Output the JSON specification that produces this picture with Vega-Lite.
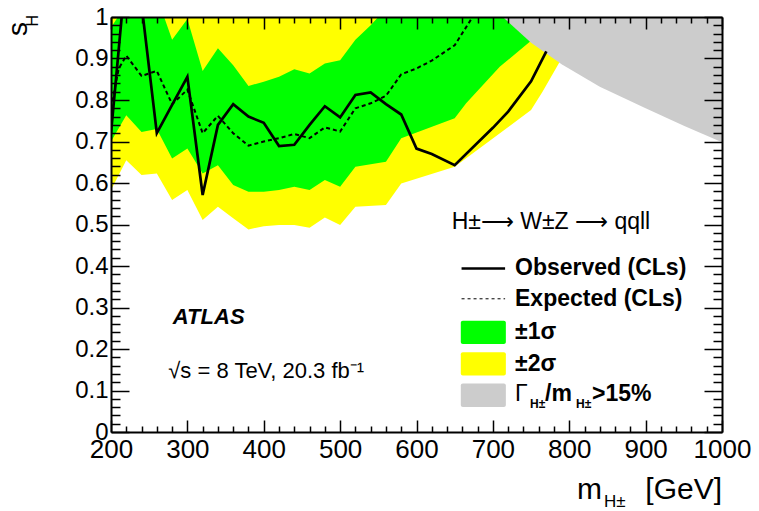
{
  "$schema": "https://vega.github.io/schema/vega-lite/v6.json",
  "width": 611,
  "height": 415,
  "autosize": {"type": "none"},
  "padding": {"left": 111, "top": 17, "right": 37, "bottom": 79},
  "background": "white",
  "config": {"view": {"stroke": null}, "font": "Liberation Sans"},
  "resolve": {"axis": {"x": "independent", "y": "independent"}},
  "datasets": {
    "yellow": [
      {"m": 200, "lo": 0.583, "hi": 1.1}, {"m": 220, "lo": 0.655, "hi": 1.1}, {"m": 240, "lo": 0.619, "hi": 1.1},
      {"m": 260, "lo": 0.623, "hi": 1.1}, {"m": 280, "lo": 0.559, "hi": 1.1}, {"m": 300, "lo": 0.583, "hi": 1.1},
      {"m": 320, "lo": 0.511, "hi": 1.1}, {"m": 340, "lo": 0.543, "hi": 1.1}, {"m": 360, "lo": 0.515, "hi": 1.1},
      {"m": 380, "lo": 0.488, "hi": 1.1}, {"m": 400, "lo": 0.496, "hi": 1.1}, {"m": 420, "lo": 0.499, "hi": 1.1},
      {"m": 440, "lo": 0.499, "hi": 1.1}, {"m": 460, "lo": 0.492, "hi": 1.1}, {"m": 480, "lo": 0.517, "hi": 1.1},
      {"m": 500, "lo": 0.499, "hi": 1.1}, {"m": 520, "lo": 0.543, "hi": 1.1}, {"m": 560, "lo": 0.547, "hi": 1.1},
      {"m": 580, "lo": 0.599, "hi": 1.1}, {"m": 650, "lo": 0.639, "hi": 1.1}, {"m": 750, "lo": 0.776, "hi": 1.1},
      {"m": 765, "lo": 0.82, "hi": 1.1}, {"m": 790, "lo": 0.9, "hi": 1.1}
    ],
    "green": [
      {"m": 200, "lo": 0.70, "hi": 0.975}, {"m": 220, "lo": 0.763, "hi": 1.03}, {"m": 240, "lo": 0.723, "hi": 1.1},
      {"m": 260, "lo": 0.73, "hi": 1.05}, {"m": 280, "lo": 0.659, "hi": 0.945}, {"m": 300, "lo": 0.683, "hi": 0.995},
      {"m": 320, "lo": 0.623, "hi": 0.87}, {"m": 340, "lo": 0.643, "hi": 0.925}, {"m": 360, "lo": 0.595, "hi": 0.884},
      {"m": 380, "lo": 0.579, "hi": 0.834}, {"m": 400, "lo": 0.579, "hi": 0.844}, {"m": 420, "lo": 0.583, "hi": 0.856},
      {"m": 440, "lo": 0.591, "hi": 0.874}, {"m": 460, "lo": 0.583, "hi": 0.864}, {"m": 480, "lo": 0.607, "hi": 0.888},
      {"m": 500, "lo": 0.591, "hi": 0.896}, {"m": 520, "lo": 0.639, "hi": 0.945}, {"m": 540, "lo": 0.645, "hi": 0.98},
      {"m": 560, "lo": 0.651, "hi": 1.02}, {"m": 580, "lo": 0.708, "hi": 1.1}, {"m": 650, "lo": 0.756, "hi": 1.1},
      {"m": 665, "lo": 0.792, "hi": 1.1}, {"m": 709, "lo": 0.88, "hi": 1.1}, {"m": 748, "lo": 0.94, "hi": 1.1},
      {"m": 770, "lo": 0.98, "hi": 1.1}
    ],
    "gray": [
      {"m": 713, "lo": 1.0, "hi": 1.05}, {"m": 750, "lo": 0.938, "hi": 1.05}, {"m": 790, "lo": 0.886, "hi": 1.05},
      {"m": 840, "lo": 0.832, "hi": 1.05}, {"m": 900, "lo": 0.78, "hi": 1.05}, {"m": 950, "lo": 0.738, "hi": 1.05},
      {"m": 1000, "lo": 0.698, "hi": 1.05}
    ],
    "observed": [
      {"m": 200, "s": 0.72}, {"m": 220, "s": 1.12}, {"m": 240, "s": 1.03}, {"m": 260, "s": 0.72},
      {"m": 280, "s": 0.788}, {"m": 300, "s": 0.856}, {"m": 320, "s": 0.571}, {"m": 340, "s": 0.74},
      {"m": 360, "s": 0.79}, {"m": 380, "s": 0.76}, {"m": 400, "s": 0.745}, {"m": 420, "s": 0.689},
      {"m": 440, "s": 0.692}, {"m": 460, "s": 0.74}, {"m": 480, "s": 0.785}, {"m": 500, "s": 0.758},
      {"m": 520, "s": 0.812}, {"m": 540, "s": 0.818}, {"m": 560, "s": 0.79}, {"m": 580, "s": 0.765},
      {"m": 600, "s": 0.683}, {"m": 620, "s": 0.67}, {"m": 650, "s": 0.643}, {"m": 700, "s": 0.733},
      {"m": 720, "s": 0.772}, {"m": 750, "s": 0.845}, {"m": 770, "s": 0.917}
    ],
    "expected": [
      {"m": 200, "s": 0.78}, {"m": 210, "s": 0.875}, {"m": 220, "s": 0.907}, {"m": 240, "s": 0.858},
      {"m": 260, "s": 0.87}, {"m": 280, "s": 0.79}, {"m": 300, "s": 0.825}, {"m": 320, "s": 0.72},
      {"m": 340, "s": 0.762}, {"m": 360, "s": 0.72}, {"m": 380, "s": 0.69}, {"m": 400, "s": 0.70},
      {"m": 420, "s": 0.708}, {"m": 440, "s": 0.718}, {"m": 460, "s": 0.708}, {"m": 480, "s": 0.734},
      {"m": 500, "s": 0.724}, {"m": 520, "s": 0.78}, {"m": 540, "s": 0.792}, {"m": 560, "s": 0.81},
      {"m": 580, "s": 0.862}, {"m": 600, "s": 0.876}, {"m": 620, "s": 0.895}, {"m": 650, "s": 0.932},
      {"m": 670, "s": 0.99}, {"m": 680, "s": 1.02}
    ]
  },
  "layer": [
    {
      "data": {"name": "yellow"},
      "mark": {"type": "area", "color": "#ffff00", "opacity": 1, "clip": true},
      "encoding": {
        "x": {"field": "m", "type": "quantitative", "scale": {"domain": [200, 1000], "nice": false, "zero": false},
          "axis": {"orient": "bottom", "values": [200,220,240,260,280,300,320,340,360,380,400,420,440,460,480,500,520,540,560,580,600,620,640,660,680,700,720,740,760,780,800,820,840,860,880,900,920,940,960,980,1000],
            "format": "d", "labelExpr": "datum.value % 100 === 0 ? datum.label : ''",
            "tickSize": {"condition": {"test": "datum.value % 100 === 0", "value": -12}, "value": -6},
            "tickWidth": 1.5, "tickColor": "black", "domainColor": "black", "domainWidth": 2,
            "labelFont": "Liberation Sans", "labelFontSize": 26, "labelColor": "black", "labelPadding": 16,
            "labelFlush": false, "labelOverlap": false, "labelBound": false, "grid": false, "title": null, "zindex": 1}},
        "y": {"field": "lo", "type": "quantitative", "scale": {"domain": [0, 1], "nice": false, "zero": false},
          "axis": {"orient": "left", "values": [0,0.02,0.04,0.06,0.08,0.1,0.12,0.14,0.16,0.18,0.2,0.22,0.24,0.26,0.28,0.3,0.32,0.34,0.36,0.38,0.4,0.42,0.44,0.46,0.48,0.5,0.52,0.54,0.56,0.58,0.6,0.62,0.64,0.66,0.68,0.7,0.72,0.74,0.76,0.78,0.8,0.82,0.84,0.86,0.88,0.9,0.92,0.94,0.96,0.98,1],
            "labelExpr": "round(datum.value*100) % 10 === 0 ? format(datum.value, '~g') : ''",
            "tickSize": {"condition": {"test": "round(datum.value*100) % 10 === 0", "value": -18}, "value": -9},
            "tickWidth": 1.5, "tickColor": "black", "domainColor": "black", "domainWidth": 2,
            "labelFont": "Liberation Sans", "labelFontSize": 24, "labelColor": "black", "labelPadding": 21,
            "labelFlush": false, "labelOverlap": false, "labelBound": false, "grid": false, "title": null, "zindex": 1}},
        "y2": {"field": "hi"}
      }
    },
    {
      "data": {"name": "green"},
      "mark": {"type": "area", "color": "#00ff00", "opacity": 1, "clip": true},
      "encoding": {
        "x": {"field": "m", "type": "quantitative", "scale": {"domain": [200, 1000], "nice": false, "zero": false}, "axis": null},
        "y": {"field": "lo", "type": "quantitative", "scale": {"domain": [0, 1], "nice": false, "zero": false}, "axis": null},
        "y2": {"field": "hi"}
      }
    },
    {
      "data": {"name": "gray"},
      "mark": {"type": "area", "color": "#cccccc", "opacity": 1, "clip": true},
      "encoding": {
        "x": {"field": "m", "type": "quantitative", "scale": {"domain": [200, 1000], "nice": false, "zero": false}, "axis": null},
        "y": {"field": "lo", "type": "quantitative", "scale": {"domain": [0, 1], "nice": false, "zero": false}, "axis": null},
        "y2": {"field": "hi"}
      }
    },
    {
      "data": {"name": "expected"},
      "mark": {"type": "line", "color": "black", "strokeWidth": 2, "strokeDash": [4, 3], "clip": true},
      "encoding": {
        "x": {"field": "m", "type": "quantitative", "scale": {"domain": [200, 1000], "nice": false, "zero": false}, "axis": null},
        "y": {"field": "s", "type": "quantitative", "scale": {"domain": [0, 1], "nice": false, "zero": false}, "axis": null}
      }
    },
    {
      "data": {"name": "observed"},
      "mark": {"type": "line", "color": "black", "strokeWidth": 2.7, "clip": true},
      "encoding": {
        "x": {"field": "m", "type": "quantitative", "scale": {"domain": [200, 1000], "nice": false, "zero": false},
          "axis": {"orient": "top", "values": [200,220,240,260,280,300,320,340,360,380,400,420,440,460,480,500,520,540,560,580,600,620,640,660,680,700,720,740,760,780,800,820,840,860,880,900,920,940,960,980,1000],
            "labels": false,
            "tickSize": {"condition": {"test": "datum.value % 100 === 0", "value": -12}, "value": -6},
            "tickWidth": 1.5, "tickColor": "black", "domainColor": "black", "domainWidth": 2,
            "grid": false, "title": null, "zindex": 1}},
        "y": {"field": "s", "type": "quantitative", "scale": {"domain": [0, 1], "nice": false, "zero": false},
          "axis": {"orient": "right", "values": [0,0.02,0.04,0.06,0.08,0.1,0.12,0.14,0.16,0.18,0.2,0.22,0.24,0.26,0.28,0.3,0.32,0.34,0.36,0.38,0.4,0.42,0.44,0.46,0.48,0.5,0.52,0.54,0.56,0.58,0.6,0.62,0.64,0.66,0.68,0.7,0.72,0.74,0.76,0.78,0.8,0.82,0.84,0.86,0.88,0.9,0.92,0.94,0.96,0.98,1],
            "labels": false,
            "tickSize": {"condition": {"test": "round(datum.value*100) % 10 === 0", "value": -18}, "value": -9},
            "tickWidth": 1.5, "tickColor": "black", "domainColor": "black", "domainWidth": 2,
            "grid": false, "title": null, "zindex": 1}}
      }
    },
    {
      "data": {"values": [{}]},
      "mark": {"type": "rule", "color": "black", "strokeWidth": 2.5},
      "encoding": {
        "x": {"datum": 659, "type": "quantitative", "scale": {"domain": [200, 1000], "nice": false, "zero": false}, "axis": null},
        "x2": {"datum": 716},
        "y": {"datum": 0.394, "type": "quantitative", "scale": {"domain": [0, 1], "nice": false, "zero": false}, "axis": null}
      }
    },
    {
      "data": {"values": [{}]},
      "mark": {"type": "rule", "color": "black", "strokeWidth": 1, "strokeDash": [3, 3]},
      "encoding": {
        "x": {"datum": 659, "type": "quantitative", "scale": {"domain": [200, 1000], "nice": false, "zero": false}, "axis": null},
        "x2": {"datum": 716},
        "y": {"datum": 0.321, "type": "quantitative", "scale": {"domain": [0, 1], "nice": false, "zero": false}, "axis": null}
      }
    },
    {
      "data": {"values": [{}]},
      "mark": {"type": "rect", "color": "#00ff00", "cornerRadius": 2},
      "encoding": {
        "x": {"datum": 658, "type": "quantitative", "scale": {"domain": [200, 1000], "nice": false, "zero": false}, "axis": null},
        "x2": {"datum": 717},
        "y": {"datum": 0.212, "type": "quantitative", "scale": {"domain": [0, 1], "nice": false, "zero": false}, "axis": null},
        "y2": {"datum": 0.268}
      }
    },
    {
      "data": {"values": [{}]},
      "mark": {"type": "rect", "color": "#ffff00", "cornerRadius": 2},
      "encoding": {
        "x": {"datum": 658, "type": "quantitative", "scale": {"domain": [200, 1000], "nice": false, "zero": false}, "axis": null},
        "x2": {"datum": 717},
        "y": {"datum": 0.136, "type": "quantitative", "scale": {"domain": [0, 1], "nice": false, "zero": false}, "axis": null},
        "y2": {"datum": 0.192}
      }
    },
    {
      "data": {"values": [{}]},
      "mark": {"type": "rect", "color": "#cccccc", "cornerRadius": 2},
      "encoding": {
        "x": {"datum": 658, "type": "quantitative", "scale": {"domain": [200, 1000], "nice": false, "zero": false}, "axis": null},
        "x2": {"datum": 717},
        "y": {"datum": 0.06, "type": "quantitative", "scale": {"domain": [0, 1], "nice": false, "zero": false}, "axis": null},
        "y2": {"datum": 0.117}
      }
    },
    {
      "data": {"values": [{"t": "Observed (CLs)", "mx": 729, "sy": 0.394}, {"t": "Expected (CLs)", "mx": 729, "sy": 0.321}, {"t": "±1σ", "mx": 729, "sy": 0.242}, {"t": "±2σ", "mx": 729, "sy": 0.165}]},
      "mark": {"type": "text", "font": "Liberation Sans", "fontSize": 23, "fontWeight": "bold", "align": "left", "baseline": "middle", "color": "black"},
      "encoding": {
        "x": {"field": "mx", "type": "quantitative", "scale": {"domain": [200, 1000], "nice": false, "zero": false}, "axis": null},
        "y": {"field": "sy", "type": "quantitative", "scale": {"domain": [0, 1], "nice": false, "zero": false}, "axis": null},
        "text": {"field": "t"}
      }
    },
    {
      "data": {"values": [{}]},
      "mark": {"type": "text", "text": "Γ", "font": "Liberation Sans", "fontSize": 23, "align": "left", "baseline": "middle", "color": "black"},
      "encoding": {
        "x": {"datum": 729, "type": "quantitative", "scale": {"domain": [200, 1000], "nice": false, "zero": false}, "axis": null},
        "y": {"datum": 0.0916, "type": "quantitative", "scale": {"domain": [0, 1], "nice": false, "zero": false}, "axis": null}
      }
    },
    {
      "data": {"values": [{}]},
      "mark": {"type": "text", "text": "H±", "font": "Liberation Sans", "fontSize": 12, "fontWeight": "bold", "align": "left", "baseline": "middle", "color": "black", "dx": 15, "dy": 10},
      "encoding": {
        "x": {"datum": 729, "type": "quantitative", "scale": {"domain": [200, 1000], "nice": false, "zero": false}, "axis": null},
        "y": {"datum": 0.0916, "type": "quantitative", "scale": {"domain": [0, 1], "nice": false, "zero": false}, "axis": null}
      }
    },
    {
      "data": {"values": [{}]},
      "mark": {"type": "text", "text": "/m", "font": "Liberation Sans", "fontSize": 23, "fontWeight": "bold", "align": "left", "baseline": "middle", "color": "black", "dx": 30},
      "encoding": {
        "x": {"datum": 729, "type": "quantitative", "scale": {"domain": [200, 1000], "nice": false, "zero": false}, "axis": null},
        "y": {"datum": 0.0916, "type": "quantitative", "scale": {"domain": [0, 1], "nice": false, "zero": false}, "axis": null}
      }
    },
    {
      "data": {"values": [{}]},
      "mark": {"type": "text", "text": "H±", "font": "Liberation Sans", "fontSize": 12, "fontWeight": "bold", "align": "left", "baseline": "middle", "color": "black", "dx": 61, "dy": 10},
      "encoding": {
        "x": {"datum": 729, "type": "quantitative", "scale": {"domain": [200, 1000], "nice": false, "zero": false}, "axis": null},
        "y": {"datum": 0.0916, "type": "quantitative", "scale": {"domain": [0, 1], "nice": false, "zero": false}, "axis": null}
      }
    },
    {
      "data": {"values": [{}]},
      "mark": {"type": "text", "text": ">15%", "font": "Liberation Sans", "fontSize": 23, "fontWeight": "bold", "align": "left", "baseline": "middle", "color": "black", "dx": 77},
      "encoding": {
        "x": {"datum": 729, "type": "quantitative", "scale": {"domain": [200, 1000], "nice": false, "zero": false}, "axis": null},
        "y": {"datum": 0.0916, "type": "quantitative", "scale": {"domain": [0, 1], "nice": false, "zero": false}, "axis": null}
      }
    },
    {
      "data": {"values": [{}]},
      "mark": {"type": "text", "text": "H±⟶ W±Z ⟶ qqll", "font": "Liberation Sans", "fontSize": 23, "align": "left", "baseline": "middle", "color": "black"},
      "encoding": {
        "x": {"datum": 646, "type": "quantitative", "scale": {"domain": [200, 1000], "nice": false, "zero": false}, "axis": null},
        "y": {"datum": 0.506, "type": "quantitative", "scale": {"domain": [0, 1], "nice": false, "zero": false}, "axis": null}
      }
    },
    {
      "data": {"values": [{}]},
      "mark": {"type": "text", "text": "ATLAS", "font": "Liberation Sans", "fontSize": 22, "fontWeight": "bold", "fontStyle": "italic", "align": "left", "baseline": "middle", "color": "black"},
      "encoding": {
        "x": {"datum": 281, "type": "quantitative", "scale": {"domain": [200, 1000], "nice": false, "zero": false}, "axis": null},
        "y": {"datum": 0.276, "type": "quantitative", "scale": {"domain": [0, 1], "nice": false, "zero": false}, "axis": null}
      }
    },
    {
      "data": {"values": [{}]},
      "mark": {"type": "text", "text": "√s = 8 TeV, 20.3 fb⁻¹", "font": "Liberation Sans", "fontSize": 22, "align": "left", "baseline": "middle", "color": "black"},
      "encoding": {
        "x": {"datum": 275, "type": "quantitative", "scale": {"domain": [200, 1000], "nice": false, "zero": false}, "axis": null},
        "y": {"datum": 0.147, "type": "quantitative", "scale": {"domain": [0, 1], "nice": false, "zero": false}, "axis": null}
      }
    },
    {
      "data": {"values": [{}]},
      "mark": {"type": "text", "text": "m", "font": "Liberation Sans", "fontSize": 30, "align": "left", "baseline": "alphabetic", "color": "black", "dx": -145, "dy": 67},
      "encoding": {
        "x": {"datum": 1000, "type": "quantitative", "scale": {"domain": [200, 1000], "nice": false, "zero": false}, "axis": null},
        "y": {"datum": 0, "type": "quantitative", "scale": {"domain": [0, 1], "nice": false, "zero": false}, "axis": null}
      }
    },
    {
      "data": {"values": [{}]},
      "mark": {"type": "text", "text": "H±", "font": "Liberation Sans", "fontSize": 17, "align": "left", "baseline": "alphabetic", "color": "black", "dx": -118, "dy": 75},
      "encoding": {
        "x": {"datum": 1000, "type": "quantitative", "scale": {"domain": [200, 1000], "nice": false, "zero": false}, "axis": null},
        "y": {"datum": 0, "type": "quantitative", "scale": {"domain": [0, 1], "nice": false, "zero": false}, "axis": null}
      }
    },
    {
      "data": {"values": [{}]},
      "mark": {"type": "text", "text": "[GeV]", "font": "Liberation Sans", "fontSize": 30, "align": "right", "baseline": "alphabetic", "color": "black", "dy": 67},
      "encoding": {
        "x": {"datum": 1000, "type": "quantitative", "scale": {"domain": [200, 1000], "nice": false, "zero": false}, "axis": null},
        "y": {"datum": 0, "type": "quantitative", "scale": {"domain": [0, 1], "nice": false, "zero": false}, "axis": null}
      }
    },
    {
      "data": {"values": [{}]},
      "mark": {"type": "text", "text": "s", "font": "Liberation Sans", "fontSize": 28, "angle": 270, "align": "right", "baseline": "alphabetic", "color": "black", "dx": -5, "dy": -84},
      "encoding": {
        "x": {"datum": 200, "type": "quantitative", "scale": {"domain": [200, 1000], "nice": false, "zero": false}, "axis": null},
        "y": {"datum": 1, "type": "quantitative", "scale": {"domain": [0, 1], "nice": false, "zero": false}, "axis": null}
      }
    },
    {
      "data": {"values": [{}]},
      "mark": {"type": "text", "text": "H", "font": "Liberation Sans", "fontSize": 16, "angle": 270, "align": "right", "baseline": "alphabetic", "color": "black", "dx": 2, "dy": -73},
      "encoding": {
        "x": {"datum": 200, "type": "quantitative", "scale": {"domain": [200, 1000], "nice": false, "zero": false}, "axis": null},
        "y": {"datum": 1, "type": "quantitative", "scale": {"domain": [0, 1], "nice": false, "zero": false}, "axis": null}
      }
    }
  ]
}
